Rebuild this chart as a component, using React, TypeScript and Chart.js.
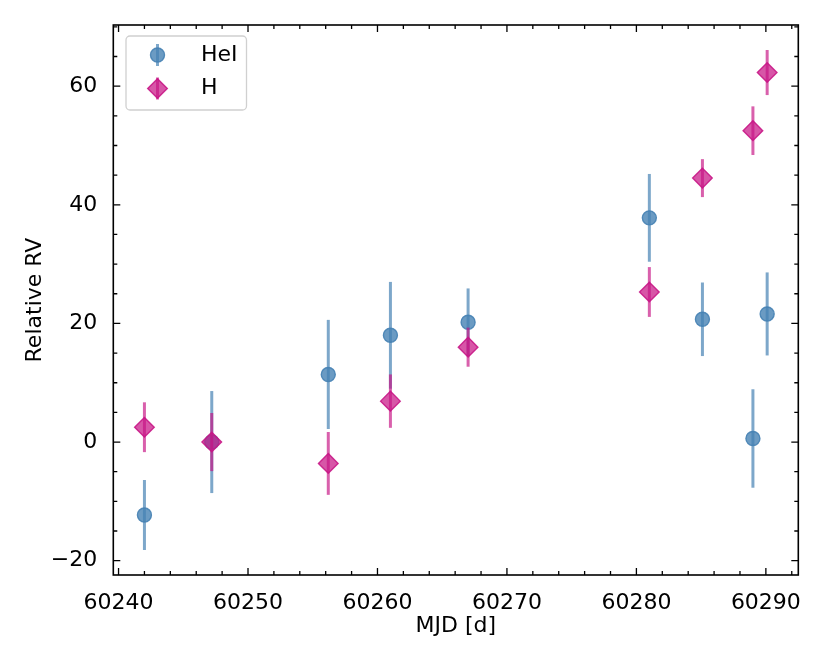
import { useEffect, useRef } from "react"
import { Chart, registerables } from "chart.js"

Chart.register(...registerables)

// MJD of each epoch, shared by both line sets
const mjd = [60242.0, 60247.2, 60256.2, 60261.0, 60267.0, 60281.0, 60285.1, 60289.0, 60290.1]
// HeI relative RV and 1-sigma errors
const heI = [-12.3, 0.0, 11.4, 18.0, 20.2, 37.8, 20.7, 0.6, 21.6]
const heIErr = [5.9, 8.6, 9.2, 9.0, 5.7, 7.4, 6.2, 8.3, 7.0]
// H relative RV and 1-sigma errors
const hRv = [2.5, 0.0, -3.6, 6.9, 16.0, 25.3, 44.5, 52.5, 62.3]
const hErr = [4.2, 4.9, 5.3, 4.5, 3.3, 4.2, 3.2, 4.1, 3.8]

const seriesLabels = ["HeI", "H"]
const xTicks = [60240, 60250, 60260, 60270, 60280, 60290]
const yTicks = [-20, 0, 20, 40, 60]

const FONT = "DejaVu Sans"
const BLUE = (a: number) => `rgba(70, 130, 180, ${a})`
const PINK = (a: number) => `rgba(199, 21, 133, ${a})`

// matplotlib-like 5% margins
const xMin = Math.min(...mjd)
const xMax = Math.max(...mjd)
const lows = [...heI.map((v, i) => v - heIErr[i]), ...hRv.map((v, i) => v - hErr[i])]
const highs = [...heI.map((v, i) => v + heIErr[i]), ...hRv.map((v, i) => v + hErr[i])]
const yMin = Math.min(...lows)
const yMax = Math.max(...highs)
const xPad = (xMax - xMin) * 0.05
const yPad = (yMax - yMin) * 0.05

const fmt = (v: number) => (v < 0 ? "\u2212" + Math.abs(v) : String(v))

const errorBars = {
  id: "errorBars",
  beforeDatasetDraw(chart: any, args: any) {
    const ds = chart.data.datasets[args.index]
    const { ctx, scales } = chart
    ctx.save()
    ctx.strokeStyle = ds.errorColor
    ctx.lineWidth = 3
    ctx.lineCap = "butt"
    ds.data.forEach((p: any, i: number) => {
      const x = scales.x.getPixelForValue(p.x)
      const y0 = scales.y.getPixelForValue(p.y - ds.errors[i])
      const y1 = scales.y.getPixelForValue(p.y + ds.errors[i])
      ctx.beginPath()
      ctx.moveTo(x, y0)
      ctx.lineTo(x, y1)
      ctx.stroke()
    })
    ctx.restore()
  },
}

const frame = {
  id: "frame",
  afterDraw(chart: any) {
    const { ctx, chartArea: a, scales } = chart
    const sx = scales.x
    const sy = scales.y
    ctx.save()
    ctx.strokeStyle = "#000"

    // ticks pointing inward on all four sides
    ctx.lineWidth = 1.3
    const xLine = (v: number, len: number) => {
      const x = sx.getPixelForValue(v)
      ctx.beginPath()
      ctx.moveTo(x, a.bottom)
      ctx.lineTo(x, a.bottom - len)
      ctx.moveTo(x, a.top)
      ctx.lineTo(x, a.top + len)
      ctx.stroke()
    }
    const yLine = (v: number, len: number) => {
      const y = sy.getPixelForValue(v)
      ctx.beginPath()
      ctx.moveTo(a.left, y)
      ctx.lineTo(a.left + len, y)
      ctx.moveTo(a.right, y)
      ctx.lineTo(a.right - len, y)
      ctx.stroke()
    }
    for (let v = Math.ceil(sx.min / 2) * 2; v <= sx.max; v += 2) {
      if (!xTicks.includes(v)) xLine(v, 4)
    }
    for (let v = Math.ceil(sy.min / 5) * 5; v <= sy.max; v += 5) {
      if (!yTicks.includes(v)) yLine(v, 4)
    }
    xTicks.forEach((v) => xLine(v, 7))
    yTicks.forEach((v) => yLine(v, 7))

    ctx.lineWidth = 1.6
    ctx.strokeRect(a.left, a.top, a.right - a.left, a.bottom - a.top)

    // legend
    const bx = a.left + 12.7
    const by = a.top + 11
    ctx.beginPath()
    ctx.roundRect(bx, by, 120.5, 74, 4)
    ctx.fillStyle = "rgba(255,255,255,0.8)"
    ctx.fill()
    ctx.strokeStyle = "#d0d0d0"
    ctx.lineWidth = 1.3
    ctx.stroke()

    const mx = bx + 31.5
    const rows = [by + 19, by + 52.5]
    chart.data.datasets.forEach((ds: any, i: number) => {
      const y = rows[i]
      ctx.strokeStyle = ds.errorColor
      ctx.lineWidth = 3
      ctx.beginPath()
      ctx.moveTo(mx, y - 11)
      ctx.lineTo(mx, y + 11)
      ctx.stroke()
      ctx.fillStyle = ds.backgroundColor
      ctx.strokeStyle = ds.borderColor
      ctx.lineWidth = ds.borderWidth
      ctx.beginPath()
      if (ds.pointStyle === "circle") {
        ctx.arc(mx, y, ds.pointRadius, 0, Math.PI * 2)
      } else {
        const r = ds.pointRadius
        ctx.moveTo(mx - r, y)
        ctx.lineTo(mx, y - r)
        ctx.lineTo(mx + r, y)
        ctx.lineTo(mx, y + r)
        ctx.closePath()
      }
      ctx.fill()
      ctx.stroke()
      ctx.fillStyle = "#000"
      ctx.font = `22px "${FONT}"`
      ctx.textBaseline = "middle"
      ctx.textAlign = "left"
      ctx.fillText(ds.label, bx + 75, y)
    })
    ctx.restore()
  },
}

export default function App() {
  const chartRef = useRef<HTMLCanvasElement>(null)
  const chartInstance = useRef<Chart | null>(null)

  useEffect(() => {
    if (!chartRef.current) return
    if (chartInstance.current) chartInstance.current.destroy()

    chartInstance.current = new Chart(chartRef.current, {
      type: "scatter",
      data: {
        datasets: [
          {
            label: seriesLabels[0],
            data: mjd.map((x, i) => ({ x, y: heI[i] })),
            errors: heIErr,
            errorColor: BLUE(0.7),
            pointStyle: "circle",
            pointRadius: 7,
            backgroundColor: BLUE(0.8),
            borderColor: BLUE(0.9),
            borderWidth: 1.4,
            order: 1,
          },
          {
            label: seriesLabels[1],
            data: mjd.map((x, i) => ({ x, y: hRv[i] })),
            errors: hErr,
            errorColor: PINK(0.68),
            pointStyle: "rectRot",
            pointRadius: 9.8,
            backgroundColor: PINK(0.72),
            borderColor: PINK(0.88),
            borderWidth: 1.4,
            order: 0,
          },
        ] as any,
      },
      options: {
        animation: false,
        responsive: true,
        maintainAspectRatio: false,
        events: [],
        layout: { padding: { left: 0, right: 31.7, top: 25, bottom: 0 } },
        plugins: {
          legend: { display: false },
          tooltip: { enabled: false },
        },
        scales: {
          x: {
            type: "linear",
            min: xMin - xPad,
            max: xMax + xPad,
            grid: { display: false },
            border: { display: false },
            afterBuildTicks: (s: any) => {
              s.ticks = xTicks.map((value) => ({ value }))
            },
            afterFit: (s: any) => {
              s.height = 89
            },
            ticks: {
              padding: 7,
              color: "#000",
              font: { family: FONT, size: 22 },
              maxRotation: 0,
              callback: (v: any) => fmt(Number(v)),
            },
            title: {
              display: true,
              text: "MJD [d]",
              color: "#000",
              font: { family: FONT, size: 22 },
              padding: { top: 0, bottom: 25 },
            },
          },
          y: {
            type: "linear",
            min: yMin - yPad,
            max: yMax + yPad,
            grid: { display: false },
            border: { display: false },
            afterBuildTicks: (s: any) => {
              s.ticks = yTicks.map((value) => ({ value }))
            },
            afterFit: (s: any) => {
              s.width = 113.3
            },
            ticks: {
              padding: 8,
              color: "#000",
              font: { family: FONT, size: 22 },
              callback: (v: any) => fmt(Number(v)),
            },
            title: {
              display: true,
              text: "Relative RV",
              color: "#000",
              font: { family: FONT, size: 22 },
              padding: { top: 22.5, bottom: 0 },
            },
          },
        },
      },
      plugins: [errorBars, frame],
    })

    return () => {
      if (chartInstance.current) {
        chartInstance.current.destroy()
        chartInstance.current = null
      }
    }
  }, [])

  return (
    <div style={{ position: "absolute", left: 0, top: 0, width: 830, height: 664, background: "#fff" }}>
      <canvas ref={chartRef} />
    </div>
  )
}
